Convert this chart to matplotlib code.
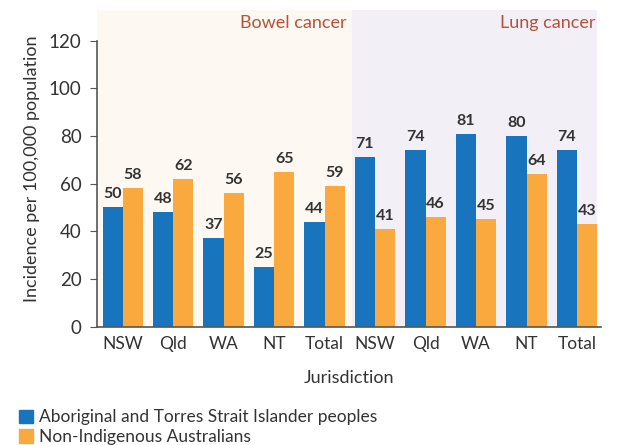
import numpy as np
import matplotlib.pyplot as plt
from matplotlib.patches import Patch

plt.rcParams['font.family'] = ['Lato', 'DejaVu Sans']

jurisdictions = ['NSW', 'Qld', 'WA', 'NT', 'Total', 'NSW', 'Qld', 'WA', 'NT', 'Total']
indigenous = [50, 48, 37, 25, 44, 71, 74, 81, 80, 74]
non_indigenous = [58, 62, 56, 65, 59, 41, 46, 45, 64, 43]
series_names = ['Aboriginal and Torres Strait Islander peoples', 'Non-Indigenous Australians']
panel_titles = ['Bowel cancer', 'Lung cancer']

blue = '#1874bd'
orange = '#f9a93e'
title_col = '#b4533a'
text_col = '#333333'

fig = plt.figure(figsize=(6.22, 4.45), dpi=100)
ax = fig.add_axes([0.1555, 0.266, 0.8115, 0.7115])

x = np.arange(len(jurisdictions))
w = 0.4
b1 = ax.bar(x - w / 2, indigenous, w, color=blue, zorder=2)
b2 = ax.bar(x + w / 2, non_indigenous, w, color=orange, zorder=2)

for bars in (b1, b2):
    for rect in bars:
        h = rect.get_height()
        ax.text(rect.get_x() + rect.get_width() / 2, h + 2.5, f'{h:.0f}',
                ha='center', va='bottom', fontsize=11.5, fontweight='bold',
                color=text_col)

xmin, xmax = -0.515, 9.485
split = 4.54
ymax = 132.8
ax.set_xlim(xmin, xmax)
ax.set_ylim(0, ymax)

# shaded panels behind the two cancer groups
ax.axvspan(xmin, split, color='#fdf8f1', zorder=0, lw=0)
ax.axvspan(split, xmax - 0.08, color='#f2eff6', zorder=0, lw=0)
ax.text(split - 0.1, ymax - 2, panel_titles[0], ha='right', va='top',
        fontsize=13, color=title_col)
ax.text(xmax - 0.12, ymax - 2, panel_titles[1], ha='right', va='top',
        fontsize=13, color=title_col)

ax.set_yticks(np.arange(0, 121, 20))
ax.set_xticks(x)
ax.set_xticklabels(jurisdictions)
ax.tick_params(axis='y', labelsize=13.5, colors=text_col, length=5, pad=6)
ax.tick_params(axis='y', color='#555555')
ax.tick_params(axis='x', labelsize=12.5, colors=text_col, length=0, pad=7)

for s in ('top', 'right'):
    ax.spines[s].set_visible(False)
ax.spines['left'].set_bounds(0, 120)
ax.spines['left'].set_color('#555555')
ax.spines['bottom'].set_color('#555555')
ax.spines['left'].set_linewidth(1.2)
ax.spines['bottom'].set_linewidth(1.2)

ax.set_ylabel('Incidence per 100,000 population', fontsize=13, color=text_col, labelpad=6)
ax.set_xlabel('Jurisdiction', fontsize=13, color=text_col, labelpad=13)

handles = [Patch(color=blue), Patch(color=orange)]
fig.legend(handles, series_names, loc='lower left', bbox_to_anchor=(0.005, -0.035),
           frameon=False, fontsize=12.5, handlelength=0.8, handleheight=0.8,
           handletextpad=0.35, labelspacing=0.2, labelcolor=text_col)

fig.savefig('out.png', dpi=100)
